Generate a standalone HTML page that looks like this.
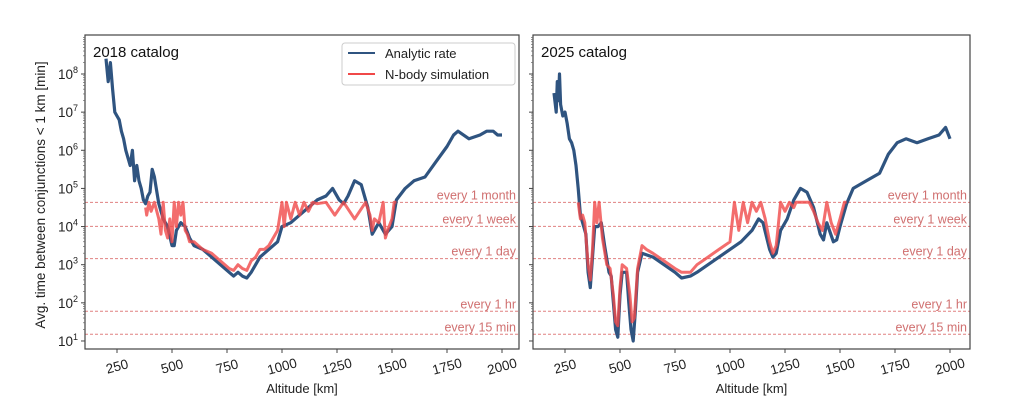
<!DOCTYPE html>
<html><head><meta charset="utf-8"><style>
body{margin:0;background:#fff;}
svg{display:block;font-family:"Liberation Sans","DejaVu Sans",sans-serif;}
</style></head><body>
<svg id="c" width="1024" height="411" viewBox="0 0 1024 411"></svg>
<script>
const thresholdLabels=["every 1 month","every 1 week","every 1 day","every 1 hr","every 15 min"];
const thresholdValues=[43200,10080,1440,60,15];
const xTicks=[250,500,750,1000,1250,1500,1750,2000];
const yTicks=[1,2,3,4,5,6,7,8];
const leftAlt=[200,210,220,230,240,250,260,270,280,290,300,310,320,330,340,350,360,370,380,390,400,410,420,440,460,480,500,510,520,540,560,580,600,640,680,720,760,780,800,820,840,860,880,900,940,980,1000,1040,1080,1120,1160,1200,1230,1260,1280,1300,1330,1360,1390,1410,1440,1470,1500,1520,1560,1600,1650,1700,1750,1780,1800,1850,1900,1930,1960,1980,2000];
const leftAnalytic=[8.4,7.8,8.3,7.6,7.0,6.9,6.8,6.5,6.3,6.0,5.8,5.6,6.0,5.2,5.6,5.2,5.0,4.7,4.6,4.8,4.9,5.5,5.3,4.6,4.2,4.0,3.5,3.5,3.9,4.1,4.0,3.7,3.5,3.4,3.2,3.0,2.8,2.7,2.8,2.7,2.65,2.8,3.0,3.2,3.4,3.6,4.0,4.1,4.3,4.5,4.7,4.8,5.0,4.7,4.6,4.8,5.2,5.1,4.5,3.8,4.1,3.8,4.0,4.7,5.0,5.2,5.3,5.7,6.1,6.4,6.5,6.3,6.4,6.5,6.5,6.4,6.4];
const leftSimAlt=[380,385,395,405,420,440,450,460,470,480,490,500,510,520,530,540,550,560,570,580,600,620,640,680,720,760,780,800,820,840,860,880,900,920,940,960,980,1000,1010,1020,1040,1060,1080,1100,1120,1140,1160,1200,1240,1280,1330,1380,1400,1410,1420,1440,1460,1470,1480,1500,1510,1520];
const leftSim=[4.5,4.3,4.7,4.4,4.7,4.2,3.8,4.7,3.9,3.7,4.2,3.6,4.7,4.0,4.7,4.3,4.7,3.9,3.8,3.6,3.6,3.5,3.4,3.3,3.1,2.9,2.85,3.0,2.9,2.85,3.1,3.2,3.4,3.4,3.5,3.7,3.9,4.7,4.0,4.7,4.2,4.7,4.3,4.7,4.4,4.7,4.6,4.7,4.3,4.7,4.2,4.7,4.3,3.9,4.2,4.1,4.7,3.7,3.9,4.2,4.7,4.7];
const rightAlt=[200,210,215,220,225,230,240,250,260,270,280,290,300,310,320,330,345,355,365,375,385,400,415,430,450,460,470,480,490,500,510,530,540,550,560,570,580,600,650,700,750,780,820,850,900,950,1000,1050,1100,1130,1150,1180,1195,1210,1230,1260,1290,1320,1350,1380,1410,1425,1440,1470,1485,1500,1530,1560,1620,1680,1720,1760,1800,1850,1900,1950,1980,2000];
const rightAnalytic=[7.5,7.0,7.8,7.3,8.0,7.2,6.9,7.0,6.7,6.3,6.2,6.0,5.6,5.0,4.3,4.1,3.8,2.8,2.4,3.2,4.0,4.0,4.1,3.5,2.8,2.7,2.0,1.3,1.1,2.2,2.8,2.8,2.0,1.3,1.0,1.8,2.8,3.3,3.2,3.0,2.8,2.65,2.7,2.8,3.0,3.2,3.4,3.6,3.9,4.2,4.1,3.4,3.2,3.3,3.9,4.2,4.7,5.0,4.9,4.5,3.8,3.65,4.1,3.6,3.65,4.0,4.6,5.0,5.2,5.4,5.9,6.2,6.3,6.2,6.3,6.4,6.6,6.3];
const rightSimAlt=[310,320,330,340,355,365,375,385,395,405,420,440,455,470,480,490,500,510,530,545,555,565,580,600,620,650,700,750,780,820,850,900,950,1000,1020,1040,1060,1080,1100,1120,1140,1160,1180,1195,1210,1230,1250,1270,1290,1300,1360,1380,1400,1420,1440,1460,1480,1500,1520,1530];
const rightSim=[4.7,4.2,4.3,4.1,3.0,2.6,3.4,4.7,4.1,4.7,3.7,3.0,2.9,2.2,1.5,1.4,2.4,3.0,2.9,2.2,1.5,1.6,2.9,3.5,3.4,3.3,3.1,2.9,2.8,2.8,3.0,3.2,3.4,3.6,4.7,3.9,4.7,4.1,4.7,4.4,4.7,4.2,3.6,3.3,3.5,4.7,4.4,4.7,4.5,4.7,4.7,4.4,4.1,3.9,4.7,4.1,3.8,4.2,4.7,4.7];

const svg=document.getElementById('c');
const NS='http://www.w3.org/2000/svg';
function mk(tag,attrs,parent){const e=document.createElementNS(NS,tag);for(const k in attrs)e.setAttribute(k,attrs[k]);(parent||svg).appendChild(e);return e;}
const MONTH=Math.log10(43200);

function panel(p){
  const g=mk('g',{});
  
  
  const xs=v=>p.x250+(v-250)*(p.x2000-p.x250)/1750;
  const ys=l=>74+(8-l)*38.14;
  const cid='clip'+p.name;
  const cp=mk('clipPath',{id:cid},g);mk('rect',{x:p.l,y:35,width:p.r-p.l,height:314},cp);
  thresholdValues.forEach((v,i)=>{
    const y=ys(Math.log10(v));
    const ln=mk('line',{x1:p.l,x2:p.r,y1:y,y2:y,stroke:'#e08080','stroke-width':1,'stroke-dasharray':'3,2'},g);
    
    
    const t=mk('text',{x:p.r-3,y:y-3,'text-anchor':'end','font-size':12.5,fill:'#d07070'},g);
    t.textContent=thresholdLabels[i];
    
    
  });
  const path=(a,v,clip)=>a.map((x,i)=>(i?'L':'M')+xs(x).toFixed(1)+','+ys(clip?Math.min(v[i],MONTH):v[i]).toFixed(1)).join('');
  const b=mk('path',{d:path(p.alt,p.an,false),fill:'none',stroke:'#2f5480','stroke-width':3.2,'stroke-linejoin':'round','clip-path':'url(#'+cid+')'},g);
  
  
  const r=mk('path',{d:path(p.salt,p.sim,true),fill:'none',stroke:'#f04848','stroke-opacity':0.8,'stroke-width':3,'stroke-linejoin':'round','clip-path':'url(#'+cid+')'},g);
  
  
  const fr=mk('rect',{x:p.l,y:35,width:p.r-p.l,height:314,fill:'none',stroke:'#444','stroke-width':1.2},g);
  
  
  xTicks.forEach(v=>{
    const x=xs(v);
    mk('line',{x1:x,x2:x,y1:349,y2:353,stroke:'#444'},g);
    const t=mk('text',{x:x,y:371,'text-anchor':'middle','font-size':13.5,fill:'#222',transform:'rotate(-15 '+x+' 366)'},g);
    t.textContent=v;
    
    
  });
  yTicks.forEach(v=>{
    const y=ys(v);
    mk('line',{x1:p.l-4,x2:p.l,y1:y,y2:y,stroke:'#444'},g);
    for(let k=2;k<10;k++){const yy=ys(v+Math.log10(k));if(yy>35)mk('line',{x1:p.l-2,x2:p.l,y1:yy,y2:yy,stroke:'#666','stroke-width':0.7},g);}
    if(p.ylabels){
      const t=mk('text',{x:p.l-7,y:y+5,'text-anchor':'end','font-size':13.5,fill:'#222'},g);
      t.textContent='10';
      const s=mk('tspan',{dy:-6,'font-size':9},t);s.textContent=v;
      
      
    }
  });
  const tt=mk('text',{x:p.l+8,y:57,'font-size':15,fill:'#111'},g);
  tt.textContent=p.title;
  
  
  const xl=mk('text',{x:(p.l+p.r)/2,y:393,'text-anchor':'middle','font-size':13,fill:'#222'},g);
  xl.textContent='Altitude [km]';
  
  
}
panel({name:'panel-2018',l:85,r:519,x250:117,x2000:502,alt:leftAlt,an:leftAnalytic,salt:leftSimAlt,sim:leftSim,title:'2018 catalog',ylabels:true});
panel({name:'panel-2025',l:533,r:970,x250:565,x2000:950,alt:rightAlt,an:rightAnalytic,salt:rightSimAlt,sim:rightSim,title:'2025 catalog',ylabels:false});

const yt=mk('text',{x:0,y:0,'text-anchor':'middle','font-size':13.5,fill:'#222',transform:'translate(45 195) rotate(-90)'});
yt.textContent='Avg. time between conjunctions < 1 km [min]';



const lg=mk('g',{});


mk('rect',{x:342,y:43,width:173,height:42,rx:3,fill:'#fff','fill-opacity':0.9,stroke:'#ccc'},lg);
mk('line',{x1:348,x2:375,y1:53,y2:53,stroke:'#2f5480','stroke-width':2},lg);
mk('line',{x1:348,x2:375,y1:74,y2:74,stroke:'#f04848','stroke-width':2},lg);
const l1=mk('text',{x:385,y:58,'font-size':13,fill:'#222'},lg);l1.textContent='Analytic rate';


const l2=mk('text',{x:385,y:79,'font-size':13,fill:'#222'},lg);l2.textContent='N-body simulation';


</script>
</body></html>
